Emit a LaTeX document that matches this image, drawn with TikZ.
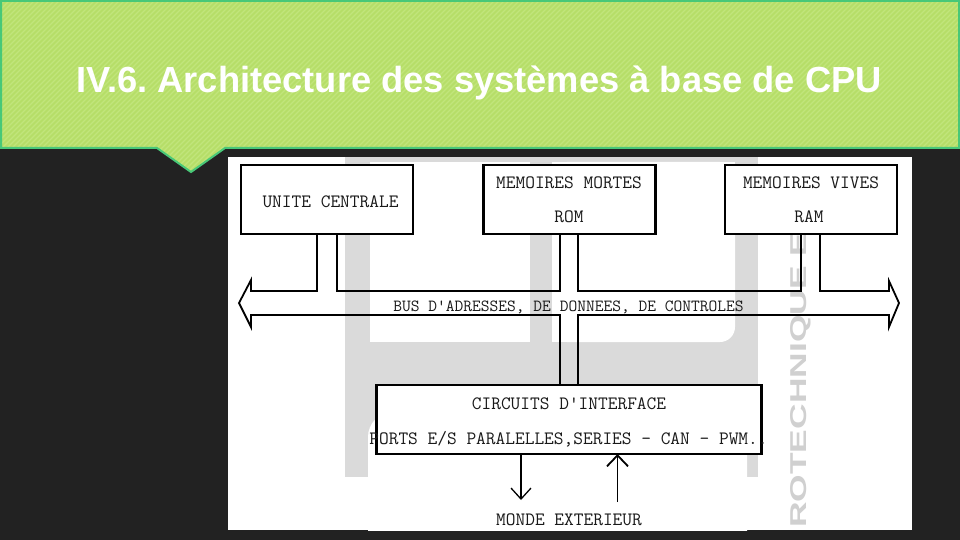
\documentclass[tikz,border=0pt]{standalone}
\usepackage{fontspec}
\newfontfamily\titlefont{Liberation Sans}
\usetikzlibrary{arrows.meta,calc}
\definecolor{slidebg}{RGB}{34,34,34}
\definecolor{hdrgreen}{RGB}{182,222,104}
\definecolor{hdrstripe}{RGB}{193,229,124}
\definecolor{hdrborder}{RGB}{72,200,120}
\definecolor{wmgray}{RGB}{218,218,218}
\definecolor{wmtext}{RGB}{208,208,208}
\definecolor{inktext}{RGB}{25,25,25}
\frenchspacing
\begin{document}
\begin{tikzpicture}[x=1pt,y=-1pt,
  box/.style={draw=black, line width=2.6pt, fill=white, minimum width=#1, minimum height=69pt, inner sep=0pt, outer sep=0pt},
  lbl/.style={font=\ttfamily\fontsize{18.86}{20}\selectfont, text=inktext, inner sep=0pt, anchor=base},
  buslbl/.style={font=\ttfamily\fontsize{17}{18}\selectfont, text=inktext, inner sep=0pt, anchor=base},
  bus/.style={draw=black, line width=1.8pt, line join=miter},
  outarrow/.style={draw=black, line width=1.3pt, -{Straight Barb[length=11pt,width=20pt]}},
  inarrow/.style={draw=black, line width=1.8pt, -{Straight Barb[length=11pt,width=21pt]}},
  titlestyle/.style={font=\titlefont\bfseries\fontsize{36.3}{40}\selectfont, text=white, inner sep=0pt, anchor=base},
  wmark/.style={text=wmtext, inner sep=0pt, anchor=base west, rotate=90}]
\useasboundingbox (0,0) rectangle (960,540);
% slide background
\fill[slidebg] (0,0) rectangle (960,540);
% header band
\fill[hdrgreen] (0,0) -- (960,0) -- (960,148) -- (225,148) -- (191,172) -- (157,148) -- (0,148) -- cycle;
\begin{scope}
  \clip (0,0) -- (960,0) -- (960,148) -- (225,148) -- (191,172) -- (157,148) -- (0,148) -- cycle;
  \foreach \i in {-180,-175,...,960} \draw[hdrstripe, line width=1.2pt] (\i,180) -- ({\i+180},0);
\end{scope}
\draw[hdrborder, line width=2pt] (1,1) -- (959,1) -- (959,148) -- (225,148) -- (191,172) -- (157,148) -- (1,148) -- cycle;
\node[titlestyle] (title) at (479,93) {IV.6. Architecture des systèmes à base de CPU};
% white panel
\fill[white] (228,157) rectangle (912,530);
% watermark
\begin{scope}
  \clip (228,157) rectangle (912,530);
  \fill[wmgray] (345,157) rectangle (758,477);
  \fill[white] (370,162) rectangle (530,342);
  \fill[white, rounded corners=15pt] (552,162) rectangle (735,342);
  \fill[white] (552,162) rectangle (700,342);
  \fill[white] (552,162) rectangle (735,300);
  \fill[white, rounded corners=25pt] (368,412) rectangle (747,580);
  \fill[white] (228,477) rectangle (912,530);
  \node[wmark] (wm) at (806,528) {\resizebox{295pt}{16pt}{\titlefont\bfseries ROTECHNIQUE E}};
\end{scope}
% boxes
\node[box=172pt] (uc) at (327,199.5) {};
\node[box=172pt] (rom) at (569.5,199.5) {};
\node[box=172pt] (ram) at (811,199.5) {};
\node[box=385pt, line width=2.3pt] (ci) at (569,419.5) {};
% labels
\node[lbl] (uct) at (330.5,207.7) {UNITE CENTRALE};
\node[lbl] (romt1) at (569,188.3) {MEMOIRES MORTES};
\node[lbl] (romt2) at (569,222.7) {ROM};
\node[lbl] (ramt1) at (811,188.3) {MEMOIRES VIVES};
\node[lbl] (ramt2) at (809,222.7) {RAM};
\node[lbl] (cit1) at (569,409.3) {CIRCUITS D'INTERFACE};
\node[lbl] (cit2) at (568.5,444.3) {PORTS E/S PARALELLES,SERIES - CAN - PWM..};
\node[lbl] (monde) at (569,525) {MONDE EXTERIEUR};
\node[buslbl] (bust) at (568.5,311.5) {BUS D'ADRESSES, DE DONNEES, DE CONTROLES};
% bus geometry
\coordinate (c1) at (317,291);
\coordinate (c2) at (337,291);
\coordinate (c3) at (560,291);
\coordinate (c4) at (578,291);
\coordinate (c5) at (801,291);
\coordinate (c6) at (820,291);
\coordinate (d3) at (560,315);
\coordinate (d4) at (578,315);
\coordinate (lb) at (251,291);
\coordinate (lht) at (251,280);
\coordinate (ltip) at (239,303);
\coordinate (lhb) at (251,327);
\coordinate (lbb) at (251,315);
\coordinate (rb) at (889,291);
\coordinate (rht) at (889,281);
\coordinate (rtip) at (899,303);
\coordinate (rhb) at (889,327);
\coordinate (rbb) at (889,315);
\draw[bus] (uc.south -| c1) -- (c1) -- (lb) -- (lht) -- (ltip) -- (lhb) -- (lbb) -- (d3) -- (ci.north -| d3);
\draw[bus] (uc.south -| c2) -- (c2) -- (c3) -- (rom.south -| c3);
\draw[bus] (rom.south -| c4) -- (c4) -- (c5) -- (ram.south -| c5);
\draw[bus] (ram.south -| c6) -- (c6) -- (rb) -- (rht) -- (rtip) -- (rhb) -- (rbb) -- (d4) -- (ci.north -| d4);
% outside world arrows
\coordinate (m1) at (521,500);
\coordinate (m2) at (617.5,502);
\draw[outarrow] (ci.south -| m1) -- (m1);
\draw[inarrow] (m2) -- (ci.south -| m2);
\end{tikzpicture}
\end{document}
